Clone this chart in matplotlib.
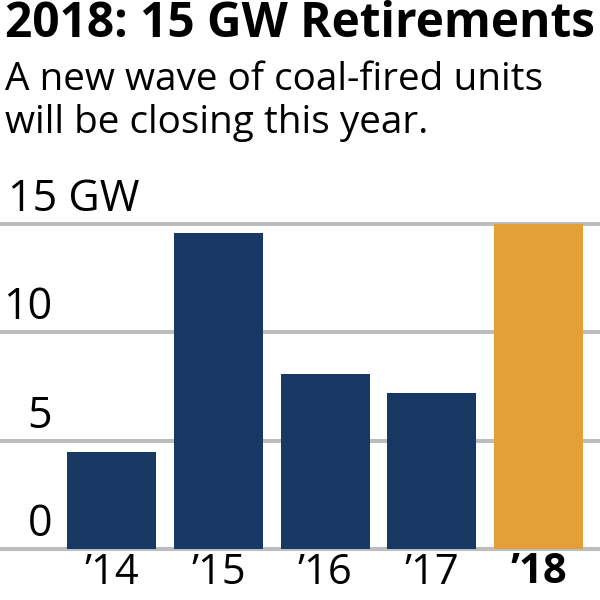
import matplotlib
matplotlib.use("Agg")
import matplotlib.pyplot as plt
import matplotlib.transforms as mtransforms

# Data
years = ["\u201914", "\u201915", "\u201916", "\u201917", "\u201918"]
retirements_gw = [4.5, 14.6, 8.1, 7.2, 15.0]
y_ticks = [0, 5, 10, 15]
y_tick_labels = ["0", "5", "10", "15 GW"]

title = "2018: 15 GW Retirements"
subtitle1 = "A new wave of coal-fired units"
subtitle2 = "will be closing this year."

NAVY = "#173862"
ORANGE = "#e59f37"
GRID = "#bdbdc0"
FONT = "Open Sans"

W, H = 600, 600
fig = plt.figure(figsize=(6, 6), dpi=100)
fig.patch.set_facecolor("white")

def fy(px):
    return 1 - px / H

ax = fig.add_axes([0, fy(549), 1, (549 - 224) / H])
ax.set_xlim(-1.045, 4.576)
ax.set_ylim(0, 15)
for s in ax.spines.values():
    s.set_visible(False)

colors = [NAVY] * (len(years) - 1) + [ORANGE]
ax.bar(range(len(years)), retirements_gw, width=0.834, color=colors, zorder=3)

for yv in y_ticks:
    ax.axhline(yv, color=GRID, lw=2.9, zorder=1, clip_on=False)

ax.set_yticks([])
ax.set_xticks(range(len(years)))
ax.set_xticklabels(years, fontsize=30, fontfamily=FONT)
for lab in ax.get_xticklabels()[-1:]:
    lab.set_fontweight("bold")
ax.tick_params(axis="x", length=0, pad=2.5)

# y labels, right aligned at x=52 px, baseline ~13 px above the gridline
for yv, lab in zip(y_ticks, y_tick_labels):
    base = mtransforms.blended_transform_factory(fig.transFigure, ax.transData)
    tr = mtransforms.offset_copy(base, fig=fig, x=0, y=13, units="dots")
    if lab.endswith("GW"):
        ax.text(8 / W, yv, lab, transform=tr, ha="left", va="baseline",
                fontsize=31, fontfamily=FONT)
    else:
        ax.text(52 / W, yv, lab, transform=tr, ha="right", va="baseline",
                fontsize=31, fontfamily=FONT)

# Titles, scaled to match widths
renderer = fig.canvas.get_renderer()

def fit_text(x, y, s, target_w, weight, size0):
    t = fig.text(x / W, fy(y), s, ha="left", va="baseline",
                 fontsize=size0, fontweight=weight, fontfamily=FONT)
    w = t.get_window_extent(renderer).width
    t.set_fontsize(size0 * target_w / w)
    return t

t1 = fit_text(5, 37, title, 590, "bold", 30)
t2 = fit_text(5, 90, subtitle1, 540, "normal", 26)
fig.text(5 / W, fy(133), subtitle2, ha="left", va="baseline",
         fontsize=t2.get_fontsize(), fontfamily=FONT)

fig.savefig("out.png", dpi=100, facecolor="white")
